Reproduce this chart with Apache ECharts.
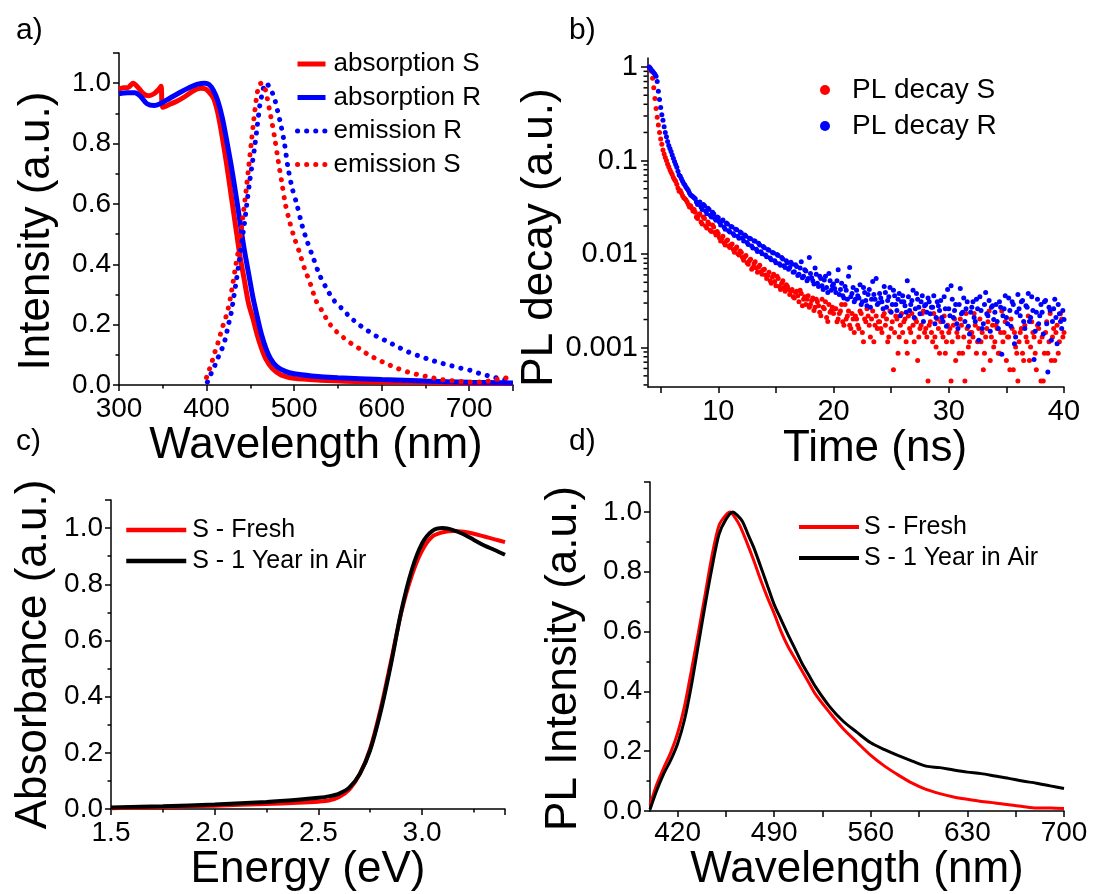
<!DOCTYPE html>
<html>
<head>
<meta charset="utf-8">
<script src="https://cdn.jsdelivr.net/npm/echarts@6/dist/echarts.min.js"></script>
<style>
html,body{margin:0;padding:0;background:#fff;}
#chart{width:1096px;height:894px;}
</style>
</head>
<body>
<div id="chart"></div>
<script>
// ---- a) absorption / emission ----
const absSWl = [300,305,310,316,322,328,334,340,345,348,350,358,366,375,385,393,398,403,408,413,418,423,428,433,438,443,448,453,458,463,468,475,485,500,530,570,620,680,750];
const absS   = [0.98,0.985,0.985,1.0,0.985,0.965,0.958,0.965,0.978,0.99,0.92,0.93,0.94,0.955,0.975,0.983,0.982,0.97,0.95,0.9,0.82,0.73,0.63,0.53,0.43,0.35,0.27,0.22,0.165,0.12,0.085,0.055,0.033,0.022,0.016,0.012,0.009,0.007,0.005];
const absRWl = [300,310,318,325,332,340,347,358,370,380,390,398,403,408,413,418,423,428,433,438,443,448,453,458,463,468,473,480,490,500,520,550,600,650,700,750];
const absR   = [0.965,0.968,0.968,0.955,0.932,0.926,0.932,0.95,0.97,0.985,0.997,1.0,0.995,0.975,0.94,0.885,0.81,0.73,0.64,0.545,0.45,0.37,0.29,0.225,0.165,0.12,0.088,0.062,0.045,0.037,0.03,0.024,0.018,0.013,0.009,0.007];
const emRWl = [401,404,407,410,413,416,419,422,425,428,431,434,437,440,443,446,449,452,455,458,461,464,467,470,473,477,481,485,489,493,498,503,509,515,522,529,537,545,554,564,574,584,595,606,618,630,642,654,666,678,690,702,714,726,738,750];
const emR   = [0.01,0.03,0.05,0.068,0.09,0.11,0.13,0.16,0.2,0.237,0.29,0.345,0.405,0.47,0.53,0.6,0.67,0.73,0.79,0.86,0.93,0.97,1.0,0.995,0.98,0.955,0.91,0.86,0.8,0.72,0.65,0.6,0.53,0.475,0.42,0.365,0.32,0.282,0.255,0.225,0.2,0.18,0.16,0.145,0.127,0.11,0.097,0.085,0.074,0.065,0.056,0.048,0.036,0.028,0.018,0.015];
const emSWl = [400,403,406,409,412,415,418,421,424,427,430,433,436,439,442,445,448,451,454,457,460,463,466,469,472,475,478,482,486,490,495,500,506,512,518,525,532,540,548,556,565,575,585,595,606,618,630,642,655,668,680,692,705,718,730,740,750];
const emS   = [0.025,0.05,0.075,0.105,0.13,0.16,0.19,0.215,0.245,0.285,0.335,0.39,0.44,0.5,0.57,0.64,0.72,0.8,0.88,0.95,0.995,1.0,0.99,0.955,0.91,0.865,0.815,0.74,0.67,0.6,0.54,0.49,0.44,0.385,0.34,0.28,0.245,0.205,0.178,0.158,0.138,0.12,0.1,0.085,0.07,0.055,0.043,0.034,0.026,0.018,0.014,0.011,0.01,0.011,0.018,0.022,0.03];

// ---- b) PL decay: even channels 4.0, 4.2 ... 40.0 ns ----
const decayS = [
  1.0,0.9,0.6,0.36,0.24,0.17,0.13,0.108,0.092,0.08,
  0.071,0.063,0.056,0.047,0.045,0.04,0.038,0.034,0.033,0.029,
  0.028,0.024,0.027,0.021,0.024,0.019,0.021,0.0175,0.0195,0.016,
  0.0165,0.0138,0.0155,0.0125,0.0142,0.0118,0.0128,0.0105,0.0119,0.0098,
  0.0104,0.0086,0.0097,0.0078,0.0088,0.0072,0.0083,0.0064,0.0076,0.0061,
  0.0069,0.0055,0.0064,0.0049,0.0061,0.0046,0.0055,0.0042,0.0052,0.004,
  0.0045,0.0037,0.0042,0.0034,0.004,0.0031,0.0038,0.0033,0.0029,0.0036,
  0.0029,0.0034,0.0027,0.0031,0.0024,0.0033,0.0026,0.0021,0.0029,0.0025,
  0.00232,0.0026,0.00203,0.00247,0.00189,0.0029,0.00218,0.00174,0.00232,0.00145,
  0.00203,0.0016,0.00232,0.00116,0.00189,0.00218,0.0013,0.00247,0.00174,0.0016,
  0.00189,0.00145,0.00232,0.00203,0.0013,0.0016,0.00058,0.00218,0.00087,0.00174,
  0.00145,0.00203,0.00087,0.0016,0.00232,0.00116,0.00189,0.0013,0.00174,0.00247,
  0.0016,0.00044,0.00189,0.00116,0.0013,0.00203,0.00087,0.00145,0.00218,0.00116,
  0.00145,0.00044,0.00174,0.00073,0.0013,0.00203,0.00087,0.00044,0.0016,0.00116,
  0.00145,0.00232,0.00087,0.0016,0.00116,0.00058,0.0013,0.00189,0.00073,0.00174,
  0.00116,0.0016,0.00087,0.00247,0.00145,0.00073,0.0013,0.00203,0.00058,0.00102,
  0.00044,0.00145,0.00087,0.00174,0.00116,0.00073,0.00189,0.0013,0.00058,0.0016,
  0.00044,0.00044,0.00145,0.00087,0.00232,0.0013,0.00073,0.00174,0.00116,0.00203,
  0.00145
];
const decayR = [
  1.0,0.93,0.87,0.8,0.55,0.37,0.27,0.2,0.16,0.135,
  0.115,0.098,0.085,0.07,0.064,0.057,0.052,0.048,0.043,0.041,
  0.039,0.034,0.036,0.03,0.033,0.027,0.03,0.025,0.027,0.023,
  0.0245,0.0205,0.0232,0.0185,0.021,0.0172,0.0195,0.0158,0.0182,0.0148,
  0.0168,0.0138,0.0155,0.0127,0.0146,0.0116,0.0137,0.0107,0.0125,0.0101,
  0.0117,0.0094,0.011,0.0087,0.0103,0.0081,0.0097,0.0076,0.0089,0.0072,
  0.0081,0.0072,0.0078,0.0065,0.0074,0.0061,0.0083,0.0058,0.0066,0.0055,
  0.0062,0.0052,0.0071,0.0049,0.0058,0.0046,0.0053,0.0044,0.0062,0.0041,
  0.0048,0.0039,0.0068,0.0042,0.0036,0.0045,0.0033,0.0072,0.0038,0.0031,
  0.0041,0.0034,0.0029,0.0044,0.0032,0.0037,0.0027,0.0051,0.0033,0.0029,
  0.0038,0.0031,0.0045,0.0027,0.0035,0.0024,0.0041,0.0029,0.0033,0.0022,
  0.0036,0.0028,0.0052,0.0025,0.0032,0.0021,0.0038,0.0027,0.0031,0.0019,
  0.0029,0.0034,0.0023,0.0027,0.0018,0.0031,0.0025,0.0021,0.0035,0.0017,
  0.0026,0.0046,0.0021,0.0029,0.0016,0.0043,0.0024,0.0019,0.0031,0.0014,
  0.0027,0.0021,0.0033,0.0012,0.0025,0.0018,0.0039,0.0022,0.0015,0.0028,
  0.0024,0.0019,0.0031,0.00085,0.0026,0.0021,0.0034,0.0017,0.0029,0.0013,
  0.0037,0.0022,0.0032,0.0016,0.0027,0.0019,0.0035,0.00075,0.0024,0.0018,
  0.0029,0.0014,0.0032,0.00055,0.0025,0.0019,0.0033,0.0011,0.0023,0.0016,
  0.002
];
// odd channels 4.1, 4.3 ... 39.9 ns
const decaySOdd = [
  0.96,0.76,0.46,0.29,0.2,0.15,0.118,0.1,0.086,0.075,
  0.066,0.06,0.051,0.048,0.042,0.039,0.036,0.032,0.031,0.03,
  0.025,0.026,0.022,0.025,0.02,0.022,0.018,0.0205,0.017,0.0175,
  0.015,0.0148,0.0132,0.0138,0.0122,0.0125,0.0112,0.0114,0.0101,0.0108,
  0.0092,0.0094,0.0081,0.0085,0.0069,0.0079,0.0071,0.0073,0.0065,0.0068,
  0.006,0.0059,0.0052,0.0057,0.0051,0.0058,0.0045,0.0049,0.0044,0.0047,
  0.0042,0.004,0.0035,0.0039,0.0036,0.0041,0.0028,0.0035,0.0033,0.0027,
  0.0032,0.0025,0.0033,0.0028,0.0022,0.0027,0.0031,0.0019,0.0024,0.0027,
  0.0026,0.00189,0.00232,0.0029,0.00174,0.00203,0.00247,0.0016,0.00203,0.00218,
  0.00174,0.00247,0.00145,0.00203,0.0026,0.00174,0.00203,0.00116,0.00218,0.00189,
  0.0016,0.00218,0.00174,0.00116,0.00247,0.00189,0.00145,0.00203,0.0013,0.00232,
  0.00189,0.00116,0.00218,0.00145,0.00174,0.00203,0.00073,0.0016,0.00232,0.00145,
  0.0013,0.00174,0.00145,0.00232,0.00102,0.0016,0.00189,0.0013,0.00087,0.00174,
  0.0016,0.00116,0.00203,0.00145,0.00087,0.00174,0.0013,0.00232,0.00102,0.00145,
  0.0013,0.00174,0.00116,0.00203,0.00145,0.00087,0.0016,0.00247,0.0013,0.00102,
  0.00174,0.00087,0.00145,0.00116,0.00189,0.0013,0.00058,0.0016,0.00145,0.00087,
  0.00116,0.0016,0.00073,0.0013,0.00218,0.00102,0.00145,0.00087,0.00174,0.00116,
  0.0013,0.00087,0.00189,0.00116,0.00073,0.0016,0.00145,0.00087,0.00232,0.0013
];
const decayROdd = [
  0.97,0.9,0.84,0.7,0.45,0.31,0.23,0.18,0.145,0.125,
  0.106,0.091,0.077,0.068,0.06,0.055,0.05,0.045,0.042,0.04,
  0.036,0.035,0.032,0.034,0.029,0.031,0.026,0.028,0.024,0.025,
  0.022,0.0225,0.0195,0.0215,0.0178,0.0198,0.0165,0.0185,0.0155,0.0172,
  0.015,0.016,0.0133,0.0148,0.0122,0.0139,0.0113,0.0131,0.0106,0.0121,
  0.0098,0.0112,0.0091,0.0104,0.0085,0.0099,0.0079,0.0092,0.0075,0.0085,
  0.0069,0.0082,0.0064,0.0077,0.0059,0.0071,0.0056,0.0068,0.0052,0.0092,
  0.0056,0.0048,0.0061,0.0045,0.0055,0.0042,0.0058,0.0039,0.0052,0.0046,
  0.0043,0.0052,0.0037,0.0049,0.0034,0.0041,0.0058,0.0035,0.0044,0.0033,
  0.0036,0.0047,0.0031,0.0039,0.0028,0.0042,0.0033,0.0037,0.0055,0.003,
  0.0034,0.0026,0.0039,0.0032,0.0044,0.0029,0.0036,0.0025,0.0038,0.0031,
  0.0031,0.0024,0.0035,0.0029,0.0041,0.0026,0.0033,0.0023,0.0036,0.0028,
  0.0024,0.0031,0.0027,0.0036,0.0021,0.0028,0.0032,0.0019,0.0026,0.0042,
  0.0022,0.0033,0.0025,0.0018,0.0029,0.0023,0.0034,0.0026,0.0017,0.0024,
  0.0031,0.0019,0.0026,0.0035,0.0016,0.0029,0.0023,0.0032,0.0027,0.002,
  0.0029,0.0016,0.0027,0.0022,0.0036,0.0018,0.0025,0.0031,0.0011,0.0024,
  0.0026,0.0031,0.0019,0.0028,0.0038,0.0021,0.0025,0.0015,0.0033,0.0022,
  0.0024,0.0031,0.0018,0.0027,0.0012,0.0026,0.0021,0.0029,0.0019,0.0025
];
const decayT    = decayS.map((_, i) => Math.round((4 + i * 0.2) * 10) / 10);
const decayTOdd = decaySOdd.map((_, i) => Math.round((4.1 + i * 0.2) * 10) / 10);
const decayLabels = [0.001, 0.01, 0.1, 1];
const decayMinor = [0.0004,0.0005,0.0006,0.0007,0.0008,0.0009,0.002,0.003,0.004,0.005,0.006,0.007,0.008,0.009,
  0.02,0.03,0.04,0.05,0.06,0.07,0.08,0.09,0.2,0.3,0.4,0.5,0.6,0.7,0.8,0.9];
const timeLabels = [10, 20, 30, 40];
const timeTicks = [5, 10, 15, 20, 25, 30, 35, 40];
const T_MIN = 3.9;

// ---- c) absorbance fresh vs aged ----
const energy = [1.5,1.75,2.0,2.25,2.4,2.5,2.55,2.6,2.65,2.7,2.75,2.8,2.85,2.9,2.95,3.0,3.05,3.1,3.15,3.2,3.25,3.3,3.35,3.4];
const absFresh = [0.003,0.007,0.012,0.018,0.022,0.026,0.03,0.043,0.07,0.125,0.215,0.355,0.525,0.7,0.83,0.92,0.97,0.985,0.99,0.987,0.98,0.97,0.96,0.95];
const absAged  = [0.005,0.01,0.016,0.025,0.033,0.04,0.045,0.055,0.077,0.125,0.21,0.345,0.515,0.705,0.85,0.945,0.99,1.0,0.993,0.978,0.958,0.938,0.922,0.905];

// ---- d) PL fresh vs aged ----
const plFreshWl = [400,405,410,415,420,425,430,435,440,445,450,455,458,461,465,470,475,480,485,490,495,500,505,510,515,520,530,540,550,560,570,580,590,600,610,620,630,640,650,660,670,680,690,700];
const plFresh   = [0.02,0.09,0.145,0.195,0.26,0.35,0.47,0.595,0.725,0.855,0.955,0.99,1.0,0.985,0.955,0.9,0.84,0.775,0.715,0.66,0.6,0.55,0.51,0.47,0.43,0.39,0.33,0.275,0.23,0.186,0.15,0.12,0.093,0.072,0.058,0.047,0.039,0.032,0.027,0.021,0.015,0.01,0.01,0.008];
const plAgedWl  = [400,405,410,415,420,425,430,435,440,445,450,455,460,463,467,471,475,480,485,490,495,500,505,510,515,520,530,540,550,560,570,580,590,600,610,620,630,640,650,660,670,680,690,700];
const plAged    = [0.005,0.07,0.125,0.17,0.225,0.305,0.42,0.555,0.69,0.815,0.925,0.975,1.0,0.99,0.968,0.925,0.883,0.82,0.755,0.69,0.64,0.59,0.543,0.495,0.455,0.415,0.35,0.3,0.263,0.228,0.205,0.185,0.167,0.15,0.145,0.137,0.13,0.125,0.117,0.109,0.1,0.093,0.084,0.075];
const plLabels = [420, 490, 560, 630, 700];
const plTicks  = [420, 455, 490, 525, 560, 595, 630, 665, 700];

const FONT = '"Liberation Sans", Arial, sans-serif';
const RED = '#ff0000', BLUE = '#0000ff', BLACK = '#000000';
const zip = (xs, ys) => xs.map((x, i) => [x, ys[i]]);
const oneDec = v => v.toFixed(1);

// common axis look
function ax(o) {
  return Object.assign({
    type: 'value',
    nameLocation: 'middle',
    axisLine: {onZero: false, lineStyle: {color: '#000', width: 1.5}},
    splitLine: {show: false},
  }, o, {
    nameTextStyle: Object.assign({fontSize: 44, color: '#000', fontFamily: FONT}, o.nameTextStyle),
    axisTick: Object.assign({show: true, length: 6, lineStyle: {color: '#000', width: 1.5}}, o.axisTick),
    axisLabel: Object.assign({fontSize: 28, color: '#000', margin: 8, fontFamily: FONT}, o.axisLabel),
  });
}
const minor = {show: true, splitNumber: 2, length: 3.5, lineStyle: {color: '#000', width: 1.5}};
// legends: line icons only, no symbol dot
const legendBase = {orient: 'vertical', padding: 0, selectedMode: false, itemStyle: {opacity: 0}};

let mycharts = echarts.init(document.getElementById('chart'));
mycharts.setOption({
  animation: false,
  textStyle: {fontFamily: FONT},
  grid: [
    {left: 119, top: 53, width: 394, height: 332, outerBoundsMode: 'none'},
    {left: 648, top: 58, width: 416, height: 329, outerBoundsMode: 'none'},
    {left: 111, top: 500, width: 394, height: 309, outerBoundsMode: 'none'},
    {left: 650, top: 482, width: 414, height: 329, outerBoundsMode: 'none'},
  ],
  xAxis: [
    ax({gridIndex: 0, min: 300, max: 750, interval: 100, name: 'Wavelength (nm)', nameGap: 34,
        axisLabel: {margin: 10, showMaxLabel: false}, minorTick: minor}),
    ax({gridIndex: 1, min: T_MIN, max: 40, name: 'Time (ns)', nameGap: 34,
        nameTextStyle: {padding: [0, 0, 0, 38]},
        axisLabel: {customValues: timeLabels, fontSize: 29, margin: 10},
        axisTick: {customValues: timeTicks}}),
    ax({gridIndex: 2, min: 1.5, max: 3.4, interval: 0.5, name: 'Energy (eV)', nameGap: 36,
        axisLabel: {formatter: oneDec, showMaxLabel: false, margin: 10}, minorTick: minor}),
    ax({gridIndex: 3, min: 400, max: 700, name: 'Wavelength (nm)', nameGap: 26,
        axisLabel: {customValues: plLabels, margin: 8},
        axisTick: {customValues: plTicks}}),
  ],
  yAxis: [
    ax({gridIndex: 0, min: 0, max: 1.1, interval: 0.2, name: 'Intensity (a.u.)', nameGap: 60,
        nameTextStyle: {padding: [0, 24, 0, 0]},
        axisLabel: {formatter: oneDec, showMaxLabel: false}, minorTick: minor}),
    ax({gridIndex: 1, type: 'log', min: 0.00038, max: 1.25, name: 'PL decay (a.u.)', nameGap: 82,
        nameTextStyle: {padding: [0, 30, 0, 0]},
        axisLabel: {customValues: decayLabels, fontSize: 29, margin: 10, formatter: v => String(v)},
        axisTick: {customValues: decayLabels, length: 7}}),
    ax({gridIndex: 2, min: 0, max: 1.1, interval: 0.2, name: 'Absorbance (a.u.)', nameGap: 55,
        axisLabel: {formatter: oneDec, showMaxLabel: false}, minorTick: minor}),
    ax({gridIndex: 3, min: 0, max: 1.1, interval: 0.2, name: 'PL Intensity (a.u.)', nameGap: 64,
        nameTextStyle: {padding: [0, 24, 0, 0]},
        axisLabel: {formatter: oneDec, showMaxLabel: false}, minorTick: minor}),
  ],
  legend: [
    Object.assign({}, legendBase, {data: ['absorption S', 'absorption R', 'emission R', 'emission S'],
     left: 295, top: 51, itemWidth: 28, itemHeight: 14, itemGap: 7.5,
     lineStyle: {width: 5}, textStyle: {fontSize: 26, color: '#000', padding: [0, 0, 0, 3]}}),
    {data: ['PL decay S', 'PL decay R'], orient: 'vertical', icon: 'circle', padding: 0, selectedMode: false,
     left: 820, top: 76, itemWidth: 10, itemHeight: 10, itemGap: 8,
     textStyle: {fontSize: 28, color: '#000', padding: [0, 0, 0, 17]}},
    Object.assign({}, legendBase, {data: ['S - Fresh', 'S - 1 Year in Air'],
     left: 124, top: 517.5, itemWidth: 60, itemHeight: 12, itemGap: 6,
     lineStyle: {width: 4.5}, textStyle: {fontSize: 25, color: '#000', padding: [0, 0, 0, 1]}}),
    Object.assign({}, legendBase, {data: ['S - Fresh', 'S - 1 Year in Air'],
     left: 797, top: 514.5, itemWidth: 60, itemHeight: 12, itemGap: 6,
     lineStyle: {width: 4}, textStyle: {fontSize: 25, color: '#000'}}),
  ],
  graphic: [
    {type: 'text', left: 16, top: 16, style: {text: 'a)', fontSize: 30, fill: '#000', fontFamily: FONT}},
    {type: 'text', left: 569, top: 16, style: {text: 'b)', fontSize: 30, fill: '#000', fontFamily: FONT}},
    {type: 'text', left: 16, top: 427, style: {text: 'c)', fontSize: 30, fill: '#000', fontFamily: FONT}},
    {type: 'text', left: 569, top: 427, style: {text: 'd)', fontSize: 30, fill: '#000', fontFamily: FONT}},
  ],
  series: [
    {name: 'absorption S', type: 'line', xAxisIndex: 0, yAxisIndex: 0, data: zip(absSWl, absS),
     symbol: 'none', smooth: 0.3, itemStyle: {color: RED}, lineStyle: {color: RED, width: 5}},
    {name: 'absorption R', type: 'line', xAxisIndex: 0, yAxisIndex: 0, data: zip(absRWl, absR),
     symbol: 'none', smooth: 0.3, itemStyle: {color: BLUE}, lineStyle: {color: BLUE, width: 5}},
    {name: 'emission R', type: 'line', xAxisIndex: 0, yAxisIndex: 0, data: zip(emRWl, emR),
     symbol: 'none', smooth: 0.3, itemStyle: {color: BLUE},
     lineStyle: {color: BLUE, width: 5, type: [0.1, 9], cap: 'round'}},
    {name: 'emission S', type: 'line', xAxisIndex: 0, yAxisIndex: 0, data: zip(emSWl, emS),
     symbol: 'none', smooth: 0.3, itemStyle: {color: RED},
     lineStyle: {color: RED, width: 5, type: [0.1, 9], cap: 'round'}},

    {name: 'PL decay S', type: 'scatter', xAxisIndex: 1, yAxisIndex: 1,
     data: zip(decayT, decayS).concat(zip(decayTOdd, decaySOdd)),
     symbolSize: 5, itemStyle: {color: RED, opacity: 1}},
    {name: 'PL decay R', type: 'scatter', xAxisIndex: 1, yAxisIndex: 1,
     data: zip(decayT, decayR).concat(zip(decayTOdd, decayROdd)),
     symbolSize: 5, itemStyle: {color: BLUE, opacity: 1}},
    // minor decade ticks of the log axis, placed on the axis line through the axis scale
    {name: 'log minor ticks', type: 'scatter', xAxisIndex: 1, yAxisIndex: 1,
     data: decayMinor.map(v => [T_MIN, v]), symbol: 'rect', symbolSize: [4, 1.5], symbolOffset: [-2.5, 0],
     clip: false, silent: true, z: 5, itemStyle: {color: '#000', opacity: 1}},

    {name: 'S - Fresh', type: 'line', xAxisIndex: 2, yAxisIndex: 2, data: zip(energy, absFresh),
     symbol: 'none', smooth: 0.3, itemStyle: {color: RED}, lineStyle: {color: RED, width: 4}},
    {name: 'S - 1 Year in Air', type: 'line', xAxisIndex: 2, yAxisIndex: 2, data: zip(energy, absAged),
     symbol: 'none', smooth: 0.3, itemStyle: {color: BLACK}, lineStyle: {color: BLACK, width: 4}},

    {name: 'S - Fresh', type: 'line', xAxisIndex: 3, yAxisIndex: 3, data: zip(plFreshWl, plFresh),
     symbol: 'none', smooth: 0.3, itemStyle: {color: RED}, lineStyle: {color: RED, width: 3}},
    {name: 'S - 1 Year in Air', type: 'line', xAxisIndex: 3, yAxisIndex: 3, data: zip(plAgedWl, plAged),
     symbol: 'none', smooth: 0.3, itemStyle: {color: BLACK}, lineStyle: {color: BLACK, width: 3}},
  ],
});
</script>
</body>
</html>
